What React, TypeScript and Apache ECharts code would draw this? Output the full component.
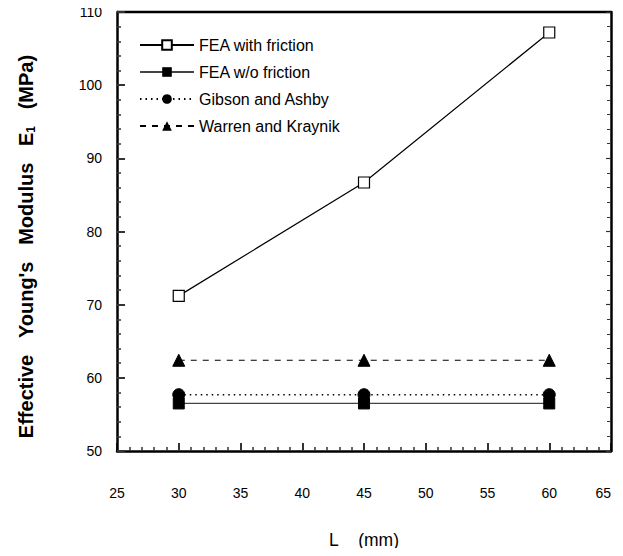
import React, { useEffect, useRef } from "react";
import * as echarts from "echarts";

const lengths = [30, 45, 60];
const feaFriction = [71.2, 86.7, 107.2];
const feaNoFriction = [56.5, 56.5, 56.5];
const gibsonAshby = [57.7, 57.7, 57.7];
const warrenKraynik = [62.4, 62.4, 62.4];
const seriesNames = ["FEA with friction", "FEA w/o friction", "Gibson and Ashby", "Warren and Kraynik"];

const pair = (ys: number[]) => lengths.map((x, i) => [x, ys[i]]);
const sp = "\u00a0\u00a0\u00a0";

export default function App() {
  const ref = useRef<HTMLDivElement>(null);
  useEffect(() => {
    if (!ref.current) return;
    const chart = echarts.init(ref.current, null, { renderer: "svg" });
    const font = "Liberation Sans, Arial, sans-serif";
    chart.setOption({
      animation: false,
      backgroundColor: "#fff",
      textStyle: { fontFamily: font, color: "#000" },
      grid: { left: 117, right: 12, top: 12, bottom: 105, show: false, containLabel: false },
      legend: {
        orient: "vertical",
        left: 134,
        top: 32,
        itemGap: 11,
        itemWidth: 54,
        itemHeight: 12,
        data: seriesNames,
        textStyle: { fontSize: 16, color: "#000", fontFamily: font },
      },
      xAxis: {
        type: "value",
        min: 25,
        max: 65,
        interval: 5,
        name: "L\u00a0\u00a0\u00a0\u00a0(mm)",
        nameLocation: "middle",
        nameGap: 80,
        nameTextStyle: { fontSize: 17.5, color: "#000" },
        axisLine: { show: true, onZero: false, lineStyle: { color: "#000", width: 2.5 } },
        axisTick: { show: true, inside: false, length: -8, lineStyle: { color: "#333333", width: 2 } },
        minorTick: { show: true, splitNumber: 5, length: -4, lineStyle: { color: "#333333", width: 1.5 } },
        axisLabel: { margin: 35, fontSize: 14, color: "#000", alignMaxLabel: "right" },
        splitLine: { show: false },
      },
      yAxis: [
        {
          type: "value",
          min: 50,
          max: 110,
          interval: 10,
          z: 10,
          name: "Effective" + sp + "Young's" + sp + "Modulus" + sp + "E{sub|1}" + sp + "(MPa)",
          nameLocation: "middle",
          nameGap: 80,
          nameTextStyle: {
            fontSize: 20,
            fontWeight: "bold",
            color: "#000",
            padding: [0, 30, 0, 0],
            rich: { sub: { fontSize: 12, fontWeight: "bold", verticalAlign: "bottom", padding: [10, 0, 0, 0] } },
          },
          axisLine: { show: true, onZero: false, lineStyle: { color: "#000", width: 2.5 } },
          axisTick: { show: true, inside: true, length: 8, lineStyle: { color: "#333333", width: 2 } },
          minorTick: { show: true, splitNumber: 5, length: 4, lineStyle: { color: "#333333", width: 1.5 } },
          axisLabel: { margin: 15, fontSize: 14, color: "#000" },
          splitLine: { show: false },
        },
        {
          type: "value",
          position: "right",
          min: 50,
          max: 110,
          interval: 10,
          z: 10,
          axisLine: { show: true, onZero: false, lineStyle: { color: "#000", width: 2.5 } },
          axisTick: { show: true, inside: true, length: 5, lineStyle: { color: "#333333", width: 1.2 } },
          minorTick: { show: true, splitNumber: 5, length: 4, lineStyle: { color: "#333333", width: 1 } },
          axisLabel: { show: false },
          splitLine: { show: false },
        },
      ],
      graphic: [
        {
          type: "line",
          shape: { x1: 117, y1: 12, x2: 611, y2: 12 },
          style: { stroke: "#000", lineWidth: 2.5 },
        },
      ],
      series: [
        {
          name: seriesNames[0],
          type: "line",
          data: pair(feaFriction),
          symbol: "rect",
          symbolSize: 11,
          lineStyle: { color: "#000", width: 1.2 },
          itemStyle: { color: "#fff", borderColor: "#000", borderWidth: 1.2 },
        },
        {
          name: seriesNames[1],
          type: "line",
          data: pair(feaNoFriction),
          symbol: "rect",
          symbolSize: 11,
          lineStyle: { color: "#444", width: 1.2 },
          itemStyle: { color: "#000", borderColor: "#000" },
        },
        {
          name: seriesNames[2],
          type: "line",
          data: pair(gibsonAshby),
          symbol: "circle",
          symbolSize: 12,
          lineStyle: { color: "#000", width: 1.5, type: [1.5, 4] },
          itemStyle: { color: "#000", borderColor: "#000" },
        },
        {
          name: seriesNames[3],
          type: "line",
          data: pair(warrenKraynik),
          symbol: "triangle",
          symbolSize: 12,
          lineStyle: { color: "#000", width: 1.2, type: [6, 6] },
          itemStyle: { color: "#000", borderColor: "#000" },
        },
      ],
    });
    return () => chart.dispose();
  }, []);
  return <div ref={ref} style={{ width: 623, height: 556, margin: -8 }} />;
}
